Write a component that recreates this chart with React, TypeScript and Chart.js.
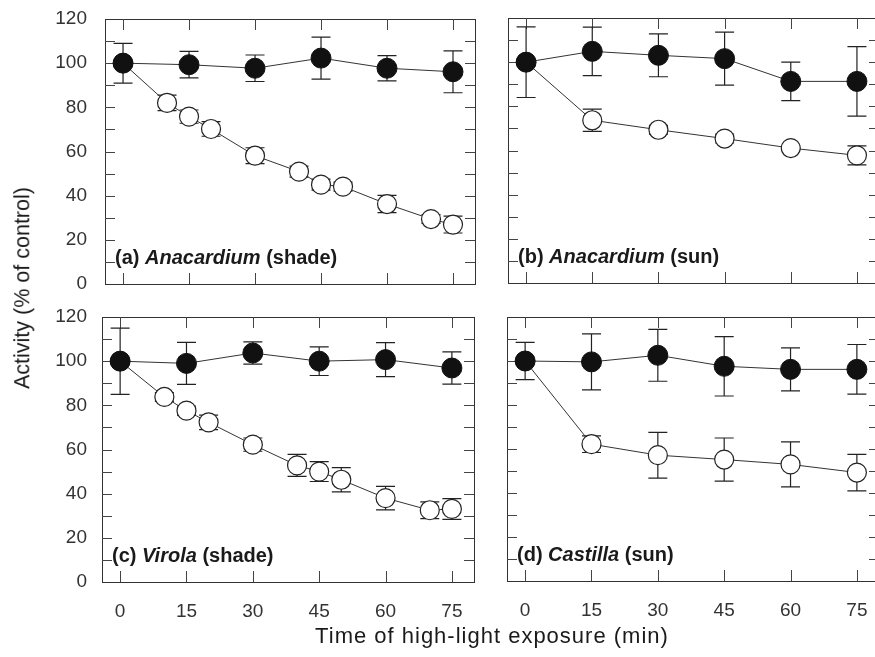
import React, { useEffect, useRef } from "react";
import { Chart, registerables } from "chart.js";

Chart.register(...registerables);

const FONT = '"Liberation Sans", Arial, Helvetica, sans-serif';

const xTickValues = [0, 15, 30, 45, 60, 75];
const yTickValues = [0, 20, 40, 60, 80, 100, 120];
const yMinorTicks = [10, 20, 30, 40, 50, 60, 70, 80, 90, 100, 110];

const filledTimes = [0, 15, 30, 45, 60, 75];

// (a) Anacardium (shade)
const aFilledY = [100, 99.3, 97.7, 102.3, 97.7, 96.1];
const aFilledErr = [9, 6, 6, 9.5, 5.7, 9.5];
const aOpenX = [0, 10, 15, 20, 30, 40, 45, 50, 60, 70, 75];
const aOpenY = [100, 82, 75.8, 70.2, 58.1, 50.9, 45, 44.1, 36.2, 29.4, 26.9];
const aOpenErr = [0, 3.5, 3, 3.3, 3.6, 2.5, 2.5, 2, 3.9, 2, 3.8];

// (b) Anacardium (sun)
const bFilledY = [100, 104.9, 103.1, 101.6, 91.3, 91.3];
const bFilledErr = [16, 11, 9.7, 12, 8.7, 15.7];
const bOpenX = [0, 15, 30, 45, 60, 75];
const bOpenY = [100, 73.7, 69.4, 65.4, 61.1, 57.8];
const bOpenErr = [0, 5, 2, 2, 1, 4.3];

// (c) Virola (shade)
const cFilledY = [100, 99, 103.7, 100, 100.7, 96.9];
const cFilledErr = [15, 9.5, 5, 6.5, 7.7, 7.3];
const cOpenX = [0, 10, 15, 20, 30, 40, 45, 50, 60, 70, 75];
const cOpenY = [100, 83.8, 77.6, 72.3, 62.2, 52.8, 50, 46.3, 38, 32.5, 33.1];
const cOpenErr = [0, 2, 2, 3.3, 3, 5, 4.5, 5.5, 5.3, 3.8, 4.7];

// (d) Castilla (sun)
const dFilledY = [100, 99.6, 102.6, 97.6, 96.2, 96.2];
const dFilledErr = [8.5, 12.7, 11.8, 13.5, 9.8, 11.3];
const dOpenX = [0, 15, 30, 45, 60, 75];
const dOpenY = [100, 62.2, 57.2, 55.2, 53, 49.3];
const dOpenErr = [0, 3.8, 10.4, 9.8, 10.2, 8.3];

const panelLabels = [
  ["(a) ", "Anacardium", " (shade)"],
  ["(b) ", "Anacardium", " (sun)"],
  ["(c) ", "Virola", " (shade)"],
  ["(d) ", "Castilla", " (sun)"],
];

const CW = 890;
const CH = 657;

type PanelCfg = {
  L: number; T: number; R: number; B: number;
  showX: boolean; showY: boolean;
  filledY: number[]; filledErr: number[];
  openX: number[]; openY: number[]; openErr: number[];
  label: string[];
};

const panels: PanelCfg[] = [
  { L: 105, T: 19, R: 475, B: 284, showX: false, showY: true, filledY: aFilledY, filledErr: aFilledErr, openX: aOpenX, openY: aOpenY, openErr: aOpenErr, label: panelLabels[0] },
  { L: 508, T: 18, R: 879, B: 283, showX: false, showY: false, filledY: bFilledY, filledErr: bFilledErr, openX: bOpenX, openY: bOpenY, openErr: bOpenErr, label: panelLabels[1] },
  { L: 102, T: 317, R: 474, B: 582, showX: true, showY: true, filledY: cFilledY, filledErr: cFilledErr, openX: cOpenX, openY: cOpenY, openErr: cOpenErr, label: panelLabels[2] },
  { L: 507, T: 317, R: 879, B: 581, showX: true, showY: false, filledY: dFilledY, filledErr: dFilledErr, openX: dOpenX, openY: dOpenY, openErr: dOpenErr, label: panelLabels[3] },
];

function framePlugin(p: PanelCfg) {
  return {
    id: "frame",
    beforeDatasetsDraw(chart: any) {
      const { ctx, chartArea, scales } = chart;
      const { left, top, right, bottom } = chartArea;
      const xs = scales.x;
      const ys = scales.y;
      ctx.save();
      ctx.strokeStyle = "#333";
      ctx.lineWidth = 1;
      ctx.strokeRect(Math.round(left) + 0.5, Math.round(top) + 0.5, Math.round(right - left), Math.round(bottom - top));
      ctx.strokeStyle = "#444";
      ctx.beginPath();
      for (const v of xTickValues) {
        const px = Math.round(xs.getPixelForValue(v)) + 0.5;
        ctx.moveTo(px, bottom);
        ctx.lineTo(px, bottom - 11);
        ctx.moveTo(px, top);
        ctx.lineTo(px, top + 11);
      }
      for (const v of yMinorTicks) {
        const py = Math.round(ys.getPixelForValue(v)) + 0.5;
        ctx.moveTo(left, py);
        ctx.lineTo(left + 10, py);
        ctx.moveTo(right, py);
        ctx.lineTo(right - 10, py);
      }
      ctx.stroke();

      // error bars
      ctx.strokeStyle = "#222";
      ctx.lineWidth = 1.2;
      chart.data.datasets.forEach((ds: any) => {
        ctx.beginPath();
        ds.data.forEach((pt: any, i: number) => {
          const e = ds.errors[i];
          if (!e) return;
          const px = xs.getPixelForValue(pt.x);
          const y1 = ys.getPixelForValue(pt.y + e);
          const y2 = ys.getPixelForValue(pt.y - e);
          ctx.moveTo(px, y1);
          ctx.lineTo(px, y2);
          ctx.moveTo(px - 9.5, y1);
          ctx.lineTo(px + 9.5, y1);
          ctx.moveTo(px - 9.5, y2);
          ctx.lineTo(px + 9.5, y2);
        });
        ctx.stroke();
      });
      ctx.restore();
    },
    afterDatasetsDraw(chart: any) {
      const { ctx, chartArea } = chart;
      ctx.save();
      ctx.fillStyle = "#1a1a1a";
      ctx.textBaseline = "alphabetic";
      let x = chartArea.left + 10;
      const y = chartArea.bottom - 20;
      const fonts = [`bold 20px ${FONT}`, `italic bold 20px ${FONT}`, `bold 20px ${FONT}`];
      p.label.forEach((t, i) => {
        ctx.font = fonts[i];
        ctx.fillText(t, x, y);
        x += ctx.measureText(t).width;
      });
      ctx.restore();
    },
  };
}

function makeChart(canvas: HTMLCanvasElement, p: PanelCfg) {
  const tickFont = { family: FONT, size: 19 };
  return new Chart(canvas, {
    type: "line",
    data: {
      datasets: [
        {
          data: filledTimes.map((x, i) => ({ x, y: p.filledY[i] })),
          errors: p.filledErr,
          order: 0,
          borderColor: "#333",
          borderWidth: 1,
          pointRadius: 10,
          pointHoverRadius: 10,
          pointBackgroundColor: "#111",
          pointBorderColor: "#111",
          pointBorderWidth: 1,
          fill: false,
          tension: 0,
        } as any,
        {
          data: p.openX.map((x, i) => ({ x, y: p.openY[i] })),
          errors: p.openErr,
          order: 1,
          borderColor: "#333",
          borderWidth: 1,
          pointRadius: 9.5,
          pointHoverRadius: 9.5,
          pointBackgroundColor: "#fff",
          pointBorderColor: "#222",
          pointBorderWidth: 1.2,
          fill: false,
          tension: 0,
        } as any,
      ],
    },
    options: {
      responsive: false,
      animation: false,
      devicePixelRatio: 1,
      events: [],
      layout: { padding: { top: p.T, right: CW - p.R, left: 0, bottom: 0 } },
      plugins: { legend: { display: false }, tooltip: { enabled: false } },
      scales: {
        x: {
          type: "linear",
          min: -4.1,
          max: 80,
          afterBuildTicks: (s: any) => {
            s.ticks = xTickValues.map((v) => ({ value: v }));
          },
          afterFit: (s: any) => {
            s.height = CH - p.B;
            s.paddingLeft = 0;
            s.paddingRight = 0;
            s.paddingTop = 0;
            s.paddingBottom = 0;
          },
          grid: { display: false, drawTicks: false },
          border: { display: false },
          ticks: {
            display: p.showX,
            padding: 18,
            font: tickFont,
            color: "#333",
            maxRotation: 0,
            autoSkip: false,
          },
        },
        y: {
          type: "linear",
          min: 0,
          max: 120,
          afterBuildTicks: (s: any) => {
            s.ticks = yTickValues.map((v) => ({ value: v }));
          },
          afterFit: (s: any) => {
            s.width = p.L;
            s.paddingLeft = 0;
            s.paddingRight = 0;
            s.paddingTop = 0;
            s.paddingBottom = 0;
          },
          grid: { display: false, drawTicks: false },
          border: { display: false },
          ticks: {
            display: p.showY,
            padding: p.L - 87,
            font: tickFont,
            color: "#333",
            autoSkip: false,
          },
        },
      },
    } as any,
    plugins: [framePlugin(p)],
  });
}

export default function App() {
  const refs = [useRef<HTMLCanvasElement>(null), useRef<HTMLCanvasElement>(null), useRef<HTMLCanvasElement>(null), useRef<HTMLCanvasElement>(null)];
  useEffect(() => {
    const charts = panels.map((p, i) => makeChart(refs[i].current as HTMLCanvasElement, p));
    return () => charts.forEach((c) => c.destroy());
  }, []);
  return (
    <div style={{ position: "fixed", left: 0, top: 0, width: 875, height: 657, overflow: "hidden", background: "#fff", fontFamily: FONT }}>
      {panels.map((_, i) => (
        <canvas key={i} ref={refs[i]} width={CW} height={CH} style={{ position: "absolute", left: 0, top: 0, width: CW, height: CH }} />
      ))}
      <div style={{ position: "absolute", left: 23, top: 288, transform: "translate(-50%, -50%) rotate(-90deg)", whiteSpace: "nowrap", fontSize: 21.5, lineHeight: 1, color: "#1a1a1a" }}>
        Activity (% of control)
      </div>
      <div style={{ position: "absolute", left: 492, top: 625, transform: "translateX(-50%)", whiteSpace: "nowrap", fontSize: 22, letterSpacing: 1, lineHeight: 1, color: "#1a1a1a" }}>
        Time of high-light exposure (min)
      </div>
    </div>
  );
}
